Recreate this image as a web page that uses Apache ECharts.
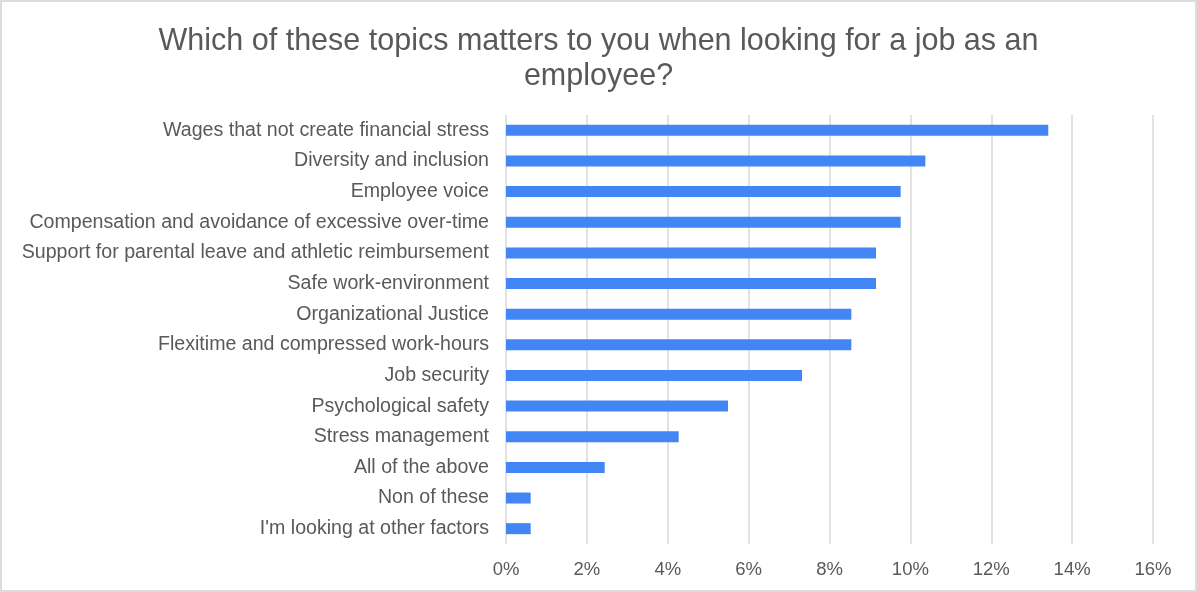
<!DOCTYPE html>
<html>
<head>
<meta charset="utf-8">
<script src="https://cdn.jsdelivr.net/npm/echarts@6/dist/echarts.min.js"></script>
<style>
  html, body { margin: 0; padding: 0; background: #fff; }
  #chart { width: 1197px; height: 592px; box-sizing: border-box; border: 2px solid #dcdcdc; }
</style>
</head>
<body>
<div id="chart"></div>
<script>
// Survey topics, listed bottom-to-top as the category axis draws them
const topics = [
  "I'm looking at other factors",
  "Non of these",
  "All of the above",
  "Stress management",
  "Psychological safety",
  "Job security",
  "Flexitime and compressed work-hours",
  "Organizational Justice",
  "Safe work-environment",
  "Support for parental leave and athletic reimbursement",
  "Compensation and avoidance of excessive over-time",
  "Employee voice",
  "Diversity and inclusion",
  "Wages that not create financial stress"
];
// Share of respondents (%)
const shares = [0.61, 0.61, 2.44, 4.27, 5.49, 7.32, 8.54, 8.54, 9.15, 9.15, 9.76, 9.76, 10.37, 13.41];
const xTicks = [0, 2, 4, 6, 8, 10, 12, 14, 16];

const FONT = 'Liberation Sans, Arial, sans-serif';
const chart = echarts.init(document.getElementById('chart'), null, { renderer: 'canvas' });
chart.setOption({
  animation: false,
  title: {
    text: 'Which of these topics matters to you when looking for a job as an\nemployee?',
    left: 'center',
    top: 17,
    textStyle: {
      fontFamily: FONT,
      fontSize: 30.5,
      fontWeight: 'normal',
      color: '#595959',
      lineHeight: 35
    }
  },
  grid: { left: 504, right: 42, top: 113, bottom: 46, containLabel: false },
  xAxis: {
    type: 'value',
    min: xTicks[0],
    max: xTicks[xTicks.length - 1],
    interval: 2,
    axisLine: { show: false },
    axisTick: { show: false },
    splitLine: { show: true, lineStyle: { color: '#d9d9d9', width: 1.5 } },
    axisLabel: {
      formatter: v => v + '%',
      fontFamily: FONT,
      fontSize: 18.5,
      color: '#595959',
      margin: 16
    }
  },
  yAxis: {
    type: 'category',
    data: topics,
    axisLine: { show: false },
    axisTick: { show: false },
    axisLabel: {
      fontFamily: FONT,
      fontSize: 19.6,
      color: '#595959',
      margin: 17
    }
  },
  series: [{
    type: 'bar',
    data: shares,
    barWidth: 11,
    itemStyle: { color: '#4285f4' }
  }]
});
</script>
</body>
</html>
